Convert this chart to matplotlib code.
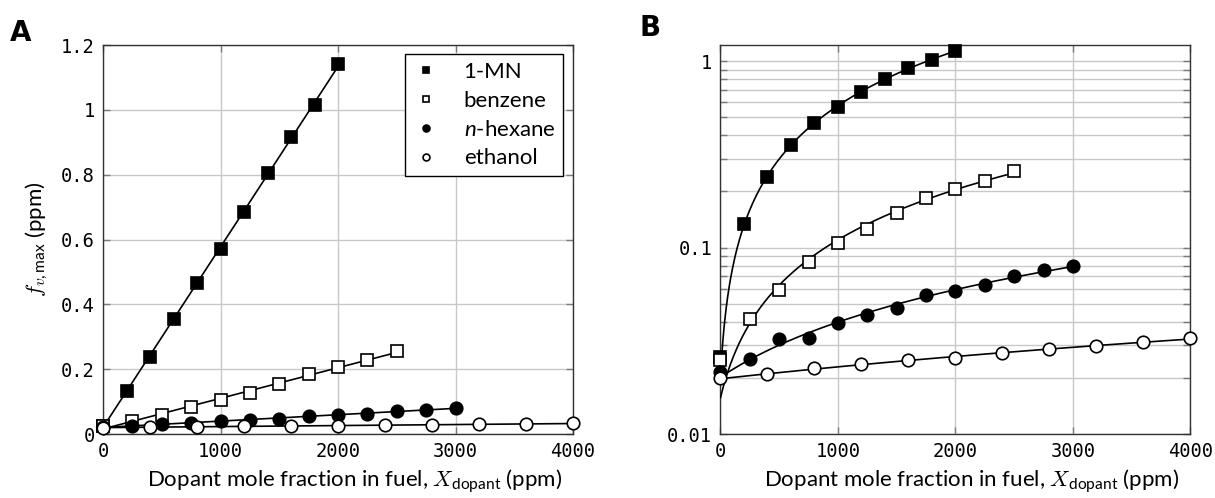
import numpy as np
import matplotlib
matplotlib.use("Agg")
import matplotlib.pyplot as plt
from matplotlib.ticker import FuncFormatter, LogLocator, NullFormatter

# Dopant mole fraction in fuel (ppm) and peak soot volume fraction (ppm)
x_mn = [0, 200, 400, 600, 800, 1000, 1200, 1400, 1600, 1800, 2000]
y_mn = [0.026, 0.134, 0.238, 0.355, 0.465, 0.570, 0.685, 0.805, 0.915, 1.015, 1.140]

x_bz = [0, 250, 500, 750, 1000, 1250, 1500, 1750, 2000, 2250, 2500]
y_bz = [0.0249, 0.0412, 0.059, 0.0838, 0.106, 0.1265, 0.153, 0.185, 0.207, 0.228, 0.256]

x_hx = [0, 250, 500, 750, 1000, 1250, 1500, 1750, 2000, 2250, 2500, 2750, 3000]
y_hx = [0.0214, 0.0254, 0.0322, 0.0329, 0.0396, 0.0437, 0.0476, 0.0556, 0.0582,
        0.0632, 0.0703, 0.0754, 0.0801]

x_et = [0, 400, 800, 1200, 1600, 2000, 2400, 2800, 3200, 3600, 4000]
y_et = [0.0199, 0.0209, 0.0225, 0.0237, 0.0249, 0.0257, 0.0271, 0.0285, 0.0296,
        0.0312, 0.0326]

series = [
    ("1-MN", x_mn, y_mn, "s", "black"),
    ("benzene", x_bz, y_bz, "s", "white"),
    (r"$\mathit{n}$-hexane", x_hx, y_hx, "o", "black"),
    ("ethanol", x_et, y_et, "o", "white"),
]

plt.rcParams["font.family"] = ["Lato", "DejaVu Sans"]
# sans text with Computer Modern math italics for symbols
plt.rcParams["mathtext.fontset"] = "custom"
plt.rcParams["mathtext.rm"] = "Lato"
plt.rcParams["mathtext.sf"] = "Lato"
plt.rcParams["mathtext.it"] = "Lato:italic"
plt.rcParams["mathtext.cal"] = "cmmi10"

fig = plt.figure(figsize=(12.15, 4.98), dpi=100)
axA = fig.add_axes([0.0848, 0.1285, 0.3868, 0.7811])
axB = fig.add_axes([0.5930, 0.1285, 0.3868, 0.7811])

tick_font = dict(family="DejaVu Sans Mono", size=13.5)
grid_c = "#c8c8c8"
xlabel = r"Dopant mole fraction in fuel, $\mathcal{X}_{\mathsf{dopant}}$ (ppm)"


def draw(ax):
    for name, xs, ys, mk, fc in series:
        xs = np.asarray(xs, float)
        ys = np.asarray(ys, float)
        b, a = np.polyfit(xs, ys, 1)
        xf = np.linspace(0, xs.max(), 300)
        ax.plot(xf, a + b * xf, color="black", lw=1.2, zorder=3)
        ax.plot(xs, ys, ls="none", marker=mk, ms=8.5 if mk == "s" else 9,
                mfc=fc, mec="black", mew=1.2, zorder=4, label=name,
                clip_on=False)
    ax.set_xlim(0, 4000)
    ax.set_xticks([0, 1000, 2000, 3000, 4000])
    ax.grid(True, which="major", color=grid_c, lw=1.0, zorder=0)
    ax.set_axisbelow(True)
    ax.tick_params(which="both", direction="in", top=True, right=True,
                   color="#7a7a7a", length=5, width=1.0, pad=6)
    for lbl in ax.get_xticklabels() + ax.get_yticklabels():
        lbl.set_fontfamily(tick_font["family"])
        lbl.set_fontsize(tick_font["size"])
    for s in ax.spines.values():
        s.set_color("#333333")
        s.set_linewidth(1.0)
    ax.set_xlabel(xlabel, fontsize=16)
    ax.xaxis.set_label_coords(0.535, -0.085)


# Panel A: linear axes
axA.set_ylim(0, 1.2)
axA.set_yticks([0, 0.2, 0.4, 0.6, 0.8, 1.0, 1.2])
axA.yaxis.set_major_formatter(FuncFormatter(lambda v, p: f"{v:g}"))
draw(axA)
axA.set_ylabel(r"$\mathcal{f}_{\mathcal{v}\mathsf{,max}}$ (ppm)", fontsize=16,
               labelpad=8)
leg = axA.legend(loc="upper right", bbox_to_anchor=(0.979, 0.977),
                 borderaxespad=0.0,
                 fontsize=16, markerscale=0.55, handletextpad=1.1,
                 borderpad=0.35, labelspacing=0.4, handlelength=1.2,
                 fancybox=False, edgecolor="black", framealpha=1)
leg.get_frame().set_linewidth(1.0)
leg.set_zorder(6)

# Panel B: logarithmic y axis
axB.set_yscale("log")
axB.set_ylim(0.01, 1.22)
axB.yaxis.set_major_locator(LogLocator(base=10, numticks=5))
axB.yaxis.set_minor_locator(LogLocator(base=10, subs=np.arange(2, 10), numticks=20))
axB.yaxis.set_minor_formatter(NullFormatter())
axB.yaxis.set_major_formatter(FuncFormatter(lambda v, p: f"{v:g}"))
draw(axB)
axB.grid(True, which="minor", axis="y", color=grid_c, lw=1.0, zorder=0)

fig.text(0.008, 0.917, "A", fontsize=20, fontweight="bold", family="DejaVu Sans")
fig.text(0.526, 0.928, "B", fontsize=20, fontweight="bold", family="DejaVu Sans")

fig.savefig("out.png", dpi=100)
